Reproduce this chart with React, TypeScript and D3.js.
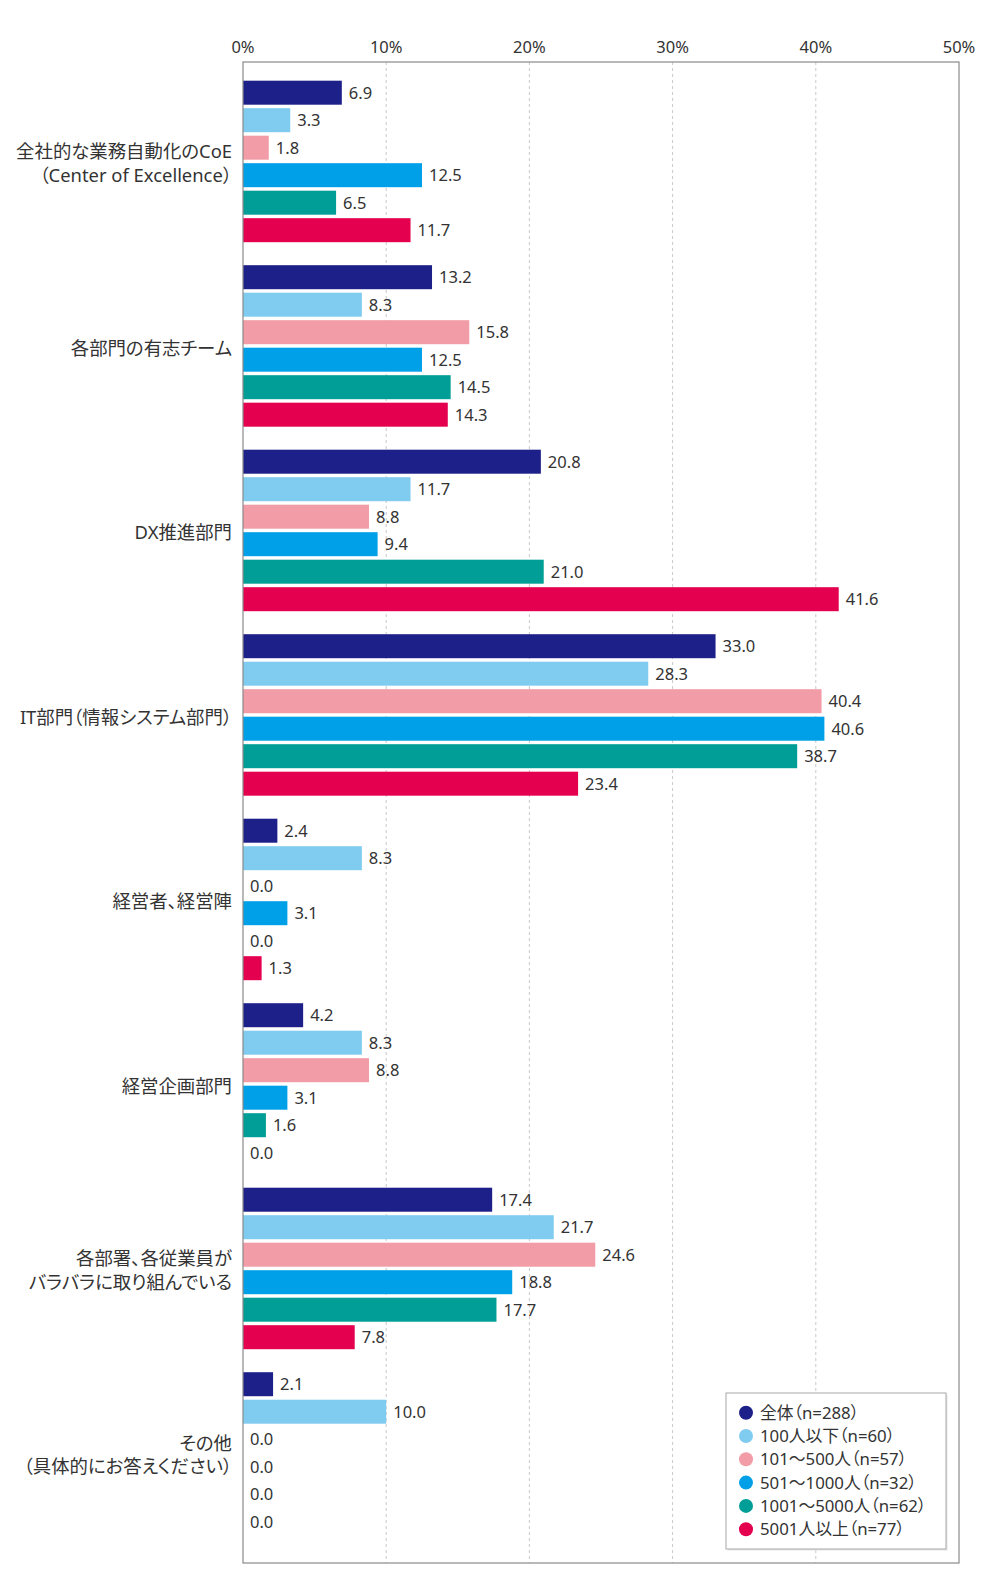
import { useEffect, useRef } from "react";
import * as d3 from "d3";

const categories = [
  "全社的な業務自動化のCoE\n（Center of Excellence）",
  "各部門の有志チーム",
  "DX推進部門",
  "IT部門（情報システム部門）",
  "経営者、経営陣",
  "経営企画部門",
  "各部署、各従業員が\nバラバラに取り組んでいる",
  "その他\n（具体的にお答えください）",
];

const seriesNames = [
  "全体（n=288）",
  "100人以下（n=60）",
  "101〜500人（n=57）",
  "501〜1000人（n=32）",
  "1001〜5000人（n=62）",
  "5001人以上（n=77）",
];

const seriesColors = ["#1d2088", "#80ccf0", "#f19ca7", "#00a0e9", "#009e96", "#e5004f"];

const all = [6.9, 13.2, 20.8, 33.0, 2.4, 4.2, 17.4, 2.1];
const under100 = [3.3, 8.3, 11.7, 28.3, 8.3, 8.3, 21.7, 10.0];
const s101to500 = [1.8, 15.8, 8.8, 40.4, 0.0, 8.8, 24.6, 0.0];
const s501to1000 = [12.5, 12.5, 9.4, 40.6, 3.1, 3.1, 18.8, 0.0];
const s1001to5000 = [6.5, 14.5, 21.0, 38.7, 0.0, 1.6, 17.7, 0.0];
const over5001 = [11.7, 14.3, 41.6, 23.4, 1.3, 0.0, 7.8, 0.0];

const seriesValues = [all, under100, s101to500, s501to1000, s1001to5000, over5001];

const xTicks = [0, 10, 20, 30, 40, 50];

const FONT = "'Noto Sans', 'Noto Sans CJK JP', sans-serif";

export default function App() {
  const svgRef = useRef<SVGSVGElement | null>(null);

  useEffect(() => {
    if (!svgRef.current) return;

    const width = 1000;
    const height = 1591;
    const plot = { left: 243, right: 959, top: 62, bottom: 1563 };

    const svg = d3.select(svgRef.current);
    svg.selectAll("*").remove();

    const x = d3.scaleLinear().domain([0, 50]).range([plot.left, plot.right]);

    const y = d3
      .scaleBand<string>()
      .domain(categories)
      .range([69.2, 69.2 + 8 * 184.5])
      .paddingInner(0.1247)
      .paddingOuter(0.0623);

    const yInner = d3
      .scaleBand<number>()
      .domain(d3.range(seriesNames.length))
      .range([0, y.bandwidth()])
      .paddingInner(0.127);

    // grid lines
    svg
      .append("g")
      .selectAll("line")
      .data(xTicks.slice(1, -1))
      .join("line")
      .attr("x1", (d) => x(d))
      .attr("x2", (d) => x(d))
      .attr("y1", plot.top)
      .attr("y2", plot.bottom)
      .attr("stroke", "#c8c8c8")
      .attr("stroke-width", 1)
      .attr("stroke-dasharray", "3,3");

    // tick labels
    svg
      .append("g")
      .selectAll("text")
      .data(xTicks)
      .join("text")
      .attr("x", (d) => x(d))
      .attr("y", 47)
      .attr("dy", "0.35em")
      .attr("text-anchor", "middle")
      .attr("font-family", FONT)
      .attr("font-size", 16.5)
      .attr("fill", "#333")
      .text((d) => `${d}%`);

    // bars
    const groups = svg
      .append("g")
      .selectAll("g")
      .data(categories)
      .join("g")
      .attr("transform", (d) => `translate(0,${y(d)})`);

    groups.each(function (cat, ci) {
      const g = d3.select(this);
      seriesValues.forEach((vals, si) => {
        const v = vals[ci];
        const by = yInner(si) ?? 0;
        if (v > 0) {
          g.append("rect")
            .attr("x", x(0))
            .attr("y", by)
            .attr("width", x(v) - x(0))
            .attr("height", yInner.bandwidth())
            .attr("fill", seriesColors[si]);
        }
        g.append("text")
          .attr("x", x(v) + 7)
          .attr("y", by + yInner.bandwidth() / 2)
          .attr("dy", "0.36em")
          .attr("font-family", FONT)
          .attr("font-size", 16.5)
          .attr("fill", "#333")
          .text(v.toFixed(1));
      });

      const lines = cat.split("\n");
      const lh = 23.4;
      const cy = y.bandwidth() / 2 + 2;
      g.append("text")
        .attr("text-anchor", "end")
        .attr("font-family", FONT)
        .attr("font-size", 18.4)
        .attr("fill", "#333")
        .style("font-feature-settings", "'palt'")
        .selectAll("tspan")
        .data(lines)
        .join("tspan")
        .attr("x", 232)
        .attr("y", (_, i) => cy + (i - (lines.length - 1) / 2) * lh)
        .attr("dy", "0.36em")
        .text((d) => d);
    });

    // frame
    svg
      .append("rect")
      .attr("x", plot.left)
      .attr("y", plot.top)
      .attr("width", plot.right - plot.left)
      .attr("height", plot.bottom - plot.top)
      .attr("fill", "none")
      .attr("stroke", "#8a8a8a")
      .attr("stroke-width", 1.2);

    // legend
    const legend = svg.append("g").attr("transform", "translate(726,1393)");

    legend
      .append("rect")
      .attr("x", 1.5)
      .attr("y", 1.5)
      .attr("width", 220)
      .attr("height", 156)
      .attr("fill", "#e6e6e6");

    legend
      .append("rect")
      .attr("width", 220)
      .attr("height", 156)
      .attr("fill", "#fff")
      .attr("stroke", "#a8a8a8")
      .attr("stroke-width", 1);

    seriesNames.forEach((name, i) => {
      const row = legend.append("g").attr("transform", `translate(0,${19.7 + i * 23.3})`);
      row
        .append("circle")
        .attr("cx", 20)
        .attr("cy", 0)
        .attr("r", 7)
        .attr("fill", seriesColors[i]);
      row
        .append("text")
        .attr("x", 34)
        .attr("y", 0)
        .attr("dy", "0.36em")
        .attr("font-family", FONT)
        .attr("font-size", 16.8)
        .attr("fill", "#333")
        .style("font-feature-settings", "'palt'")
        .text(name);
    });

    svg.attr("width", width).attr("height", height);
  }, []);

  return (
    <div style={{ position: "absolute", left: 0, top: 0, background: "#fff" }}>
      <svg ref={svgRef} width={1000} height={1591} viewBox="0 0 1000 1591" style={{ display: "block" }}></svg>
    </div>
  );
}
